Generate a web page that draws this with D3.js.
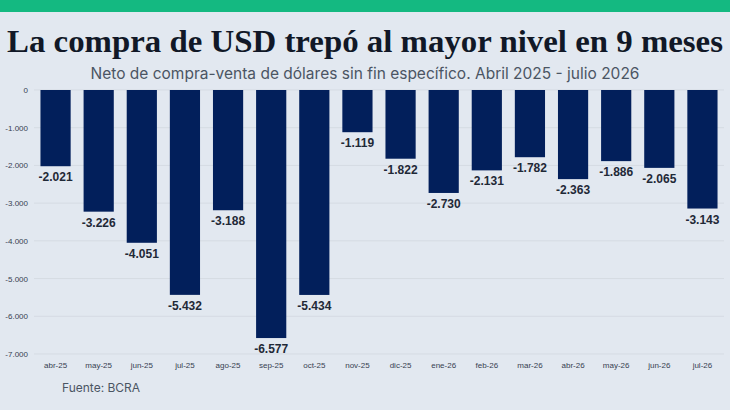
<!DOCTYPE html>
<html><head><meta charset="utf-8">
<script src="https://cdn.jsdelivr.net/npm/d3@7"></script>
<style>body{margin:0;background:#e2e8f0}</style>
</head><body>
<svg id="chart" width="730" height="410"></svg>
<script>
// Datos
const meses = ["abr-25","may-25","jun-25","jul-25","ago-25","sep-25","oct-25","nov-25","dic-25","ene-26","feb-26","mar-26","abr-26","may-26","jun-26","jul-26"];
const valores = [-2021,-3226,-4051,-5432,-3188,-6577,-5434,-1119,-1822,-2730,-2131,-1782,-2363,-1886,-2065,-3143];
const ticks = [0,-1000,-2000,-3000,-4000,-5000,-6000,-7000];

const svg = d3.select("#chart");
const fmtN = d => d3.format(",")(d).replace(/,/g, ".").replace("\u2212", "-");

svg.append("rect").attr("width",730).attr("height",410).attr("fill","#e2e8f0");
svg.append("rect").attr("width",730).attr("height",12).attr("fill","#14b981");

svg.append("text").attr("x",365).attr("y",52).attr("text-anchor","middle")
  .attr("font-family","Liberation Serif, serif").attr("font-weight","bold").attr("font-size",31)
  .attr("textLength",716).attr("lengthAdjust","spacingAndGlyphs")
  .attr("fill","#111827").text("La compra de USD trepó al mayor nivel en 9 meses");
svg.append("text").attr("x",365).attr("y",79).attr("text-anchor","middle")
  .attr("font-family","Inter, sans-serif").attr("font-size",15.5)
  .attr("fill","#4b5563").text("Neto de compra-venta de dólares sin fin específico. Abril 2025 - julio 2026");

const x = d3.scaleBand().domain(meses).range([34,724]).paddingInner(0.3).paddingOuter(0.15);
const y = d3.scaleLinear().domain([-7000,0]).range([354,90]);

const g = svg.append("g").attr("font-family","Liberation Sans, Arial, sans-serif");
g.selectAll(".grid").data(ticks).join("line")
  .attr("x1",34).attr("x2",724).attr("y1",d=>y(d)).attr("y2",d=>y(d))
  .attr("stroke","#d5dbe3").attr("stroke-width",1);
g.selectAll(".yt").data(ticks).join("text")
  .attr("x",28).attr("y",d=>y(d)+3).attr("text-anchor","end")
  .attr("font-size",8).attr("fill","#374151").text(d=>fmtN(d));

g.selectAll(".bar").data(valores).join("rect")
  .attr("x",(d,i)=>x(meses[i])).attr("width",x.bandwidth())
  .attr("y",y(0)).attr("height",d=>y(d)-y(0)).attr("fill","#021f5b");

g.selectAll(".lbl").data(valores).join("text")
  .attr("x",(d,i)=>x(meses[i])+x.bandwidth()/2).attr("y",d=>y(d)+15)
  .attr("text-anchor","middle").attr("font-size",12).attr("font-weight","bold")
  .attr("fill","#1f2937").text(d=>fmtN(d));

g.selectAll(".xt").data(meses).join("text")
  .attr("x",d=>x(d)+x.bandwidth()/2).attr("y",368)
  .attr("text-anchor","middle").attr("font-size",8).attr("fill","#374151").text(d=>d);

svg.append("text").attr("x",62).attr("y",392).attr("font-family","Inter, sans-serif")
  .attr("font-size",12).attr("fill","#4b5563").text("Fuente: BCRA");
</script>
</body></html>
